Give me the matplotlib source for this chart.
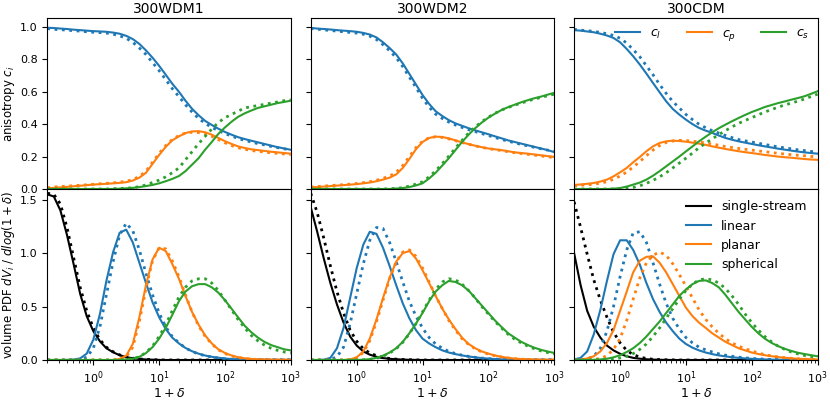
import numpy as np
import matplotlib
matplotlib.use("Agg")
import matplotlib.pyplot as plt

# x grid: 1+delta, 0.1 dex steps from 0.2 to 1000
delta1 = [0.2, 0.251, 0.316, 0.398, 0.501, 0.631, 0.794, 1.0, 1.26, 1.58,
          2.0, 2.51, 3.16, 3.98, 5.01, 6.31, 7.94, 10.0, 12.6, 15.8,
          20.0, 25.1, 31.6, 39.8, 50.1, 63.1, 79.4, 100.0, 126.0, 158.0,
          200.0, 251.0, 316.0, 398.0, 501.0, 631.0, 794.0, 1000.0]

runs = ["300WDM1", "300WDM2", "300CDM"]

# ---- anisotropy c_l, c_p, c_s (solid, and dotted comparison) ----
cl_wdm1 = [0.995, 0.993, 0.99, 0.987, 0.983, 0.98, 0.977, 0.974, 0.972, 0.97,
           0.965, 0.958, 0.945, 0.925, 0.895, 0.855, 0.81, 0.76, 0.705, 0.65,
           0.60, 0.545, 0.495, 0.455, 0.42, 0.395, 0.372, 0.352, 0.335, 0.32,
           0.308, 0.298, 0.288, 0.278, 0.268, 0.258, 0.25, 0.242]
cl_wdm1_d = [0.99, 0.985, 0.983, 0.98, 0.977, 0.974, 0.97, 0.967, 0.965, 0.962,
             0.955, 0.945, 0.93, 0.905, 0.87, 0.83, 0.78, 0.73, 0.675, 0.62,
             0.57, 0.52, 0.475, 0.435, 0.405, 0.38, 0.36, 0.342, 0.327, 0.312,
             0.30, 0.29, 0.28, 0.272, 0.263, 0.255, 0.248, 0.24]
cp_wdm1 = [0.005, 0.007, 0.01, 0.013, 0.017, 0.02, 0.024, 0.027, 0.03, 0.032,
           0.035, 0.038, 0.042, 0.052, 0.07, 0.10, 0.155, 0.21, 0.26, 0.30,
           0.325, 0.345, 0.355, 0.357, 0.35, 0.335, 0.315, 0.295, 0.278, 0.263,
           0.253, 0.245, 0.24, 0.235, 0.23, 0.226, 0.222, 0.218]
cp_wdm1_d = [0.008, 0.012, 0.015, 0.018, 0.02, 0.023, 0.026, 0.029, 0.032, 0.035,
             0.038, 0.042, 0.048, 0.058, 0.078, 0.11, 0.165, 0.22, 0.268, 0.305,
             0.33, 0.345, 0.35, 0.348, 0.34, 0.325, 0.305, 0.285, 0.268, 0.255,
             0.245, 0.238, 0.232, 0.228, 0.223, 0.22, 0.216, 0.213]
cs_wdm1 = [0, 0, 0, 0, 0, 0, 0, 0, 0, 0,
           0, 0.002, 0.004, 0.007, 0.012, 0.018, 0.025, 0.035, 0.048, 0.062,
           0.08, 0.11, 0.15, 0.19, 0.243, 0.29, 0.34, 0.38, 0.415, 0.445,
           0.467, 0.484, 0.50, 0.51, 0.52, 0.53, 0.537, 0.545]
cs_wdm1_d = [0, 0, 0, 0, 0, 0, 0, 0, 0, 0,
             0.002, 0.003, 0.005, 0.008, 0.015, 0.025, 0.04, 0.055, 0.075, 0.10,
             0.13, 0.18, 0.23, 0.28, 0.325, 0.37, 0.41, 0.44, 0.46, 0.48,
             0.50, 0.508, 0.515, 0.522, 0.53, 0.537, 0.545, 0.55]

cl_wdm2 = [0.994, 0.99, 0.987, 0.984, 0.98, 0.977, 0.974, 0.97, 0.963, 0.953,
           0.935, 0.905, 0.87, 0.83, 0.775, 0.71, 0.645, 0.58, 0.525, 0.48,
           0.45, 0.425, 0.405, 0.39, 0.375, 0.362, 0.35, 0.338, 0.325, 0.313,
           0.30, 0.29, 0.28, 0.27, 0.26, 0.25, 0.24, 0.228]
cl_wdm2_d = [0.99, 0.986, 0.982, 0.978, 0.974, 0.97, 0.966, 0.962, 0.955, 0.943,
             0.922, 0.89, 0.853, 0.81, 0.755, 0.69, 0.627, 0.56, 0.505, 0.462,
             0.435, 0.413, 0.395, 0.38, 0.366, 0.354, 0.342, 0.33, 0.318, 0.306,
             0.295, 0.285, 0.275, 0.266, 0.257, 0.248, 0.24, 0.232]
cp_wdm2 = [0.01, 0.012, 0.015, 0.018, 0.021, 0.024, 0.027, 0.03, 0.035, 0.04,
           0.048, 0.058, 0.07, 0.09, 0.13, 0.185, 0.245, 0.29, 0.315, 0.323,
           0.321, 0.312, 0.30, 0.288, 0.277, 0.267, 0.258, 0.25, 0.245, 0.24,
           0.233, 0.226, 0.222, 0.218, 0.213, 0.208, 0.203, 0.198]
cp_wdm2_d = [0.012, 0.015, 0.018, 0.021, 0.024, 0.027, 0.03, 0.034, 0.039, 0.045,
             0.054, 0.066, 0.08, 0.103, 0.145, 0.20, 0.255, 0.295, 0.316, 0.322,
             0.318, 0.309, 0.298, 0.287, 0.276, 0.266, 0.257, 0.249, 0.243, 0.237,
             0.23, 0.224, 0.219, 0.214, 0.209, 0.204, 0.199, 0.194]
cs_wdm2 = [0, 0, 0, 0, 0, 0, 0, 0, 0, 0,
           0, 0, 0, 0.003, 0.006, 0.012, 0.022, 0.035, 0.065, 0.10,
           0.145, 0.19, 0.24, 0.29, 0.335, 0.375, 0.41, 0.44, 0.465, 0.487,
           0.505, 0.52, 0.535, 0.548, 0.56, 0.57, 0.582, 0.593]
cs_wdm2_d = [0, 0, 0, 0, 0, 0, 0, 0, 0, 0,
             0, 0, 0.002, 0.004, 0.008, 0.018, 0.03, 0.045, 0.075, 0.112,
             0.157, 0.203, 0.252, 0.30, 0.345, 0.383, 0.415, 0.443, 0.467, 0.487,
             0.503, 0.517, 0.53, 0.543, 0.555, 0.565, 0.575, 0.585]

cl_cdm = [0.98, 0.977, 0.972, 0.967, 0.958, 0.947, 0.932, 0.905, 0.864, 0.819,
          0.767, 0.712, 0.654, 0.597, 0.541, 0.494, 0.459, 0.428, 0.40, 0.377,
          0.36, 0.346, 0.33, 0.315, 0.304, 0.294, 0.286, 0.278, 0.27, 0.263,
          0.256, 0.249, 0.243, 0.237, 0.231, 0.226, 0.222, 0.218]
cl_cdm_d = [0.985, 0.98, 0.977, 0.972, 0.966, 0.958, 0.947, 0.93, 0.90, 0.86,
            0.815, 0.76, 0.705, 0.645, 0.59, 0.54, 0.50, 0.46, 0.428, 0.40,
            0.378, 0.36, 0.345, 0.33, 0.317, 0.305, 0.297, 0.29, 0.282, 0.275,
            0.267, 0.26, 0.254, 0.248, 0.242, 0.237, 0.232, 0.228]
cp_cdm = [0.025, 0.028, 0.032, 0.037, 0.046, 0.058, 0.078, 0.103, 0.13, 0.165,
          0.198, 0.233, 0.263, 0.284, 0.294, 0.298, 0.296, 0.292, 0.286, 0.28,
          0.272, 0.263, 0.255, 0.247, 0.24, 0.233, 0.227, 0.222, 0.216, 0.21,
          0.205, 0.20, 0.196, 0.193, 0.189, 0.185, 0.182, 0.18]
cp_cdm_d = [0.02, 0.023, 0.026, 0.03, 0.036, 0.045, 0.06, 0.08, 0.105, 0.135,
            0.17, 0.205, 0.24, 0.268, 0.287, 0.296, 0.30, 0.299, 0.295, 0.29,
            0.284, 0.277, 0.27, 0.262, 0.256, 0.25, 0.245, 0.24, 0.235, 0.23,
            0.225, 0.22, 0.216, 0.212, 0.208, 0.205, 0.201, 0.198]
cs_cdm = [0, 0, 0, 0, 0, 0, 0.002, 0.006, 0.015, 0.027,
          0.04, 0.058, 0.082, 0.11, 0.14, 0.17, 0.20, 0.232, 0.263, 0.294,
          0.323, 0.35, 0.375, 0.397, 0.418, 0.438, 0.457, 0.475, 0.49, 0.506,
          0.518, 0.53, 0.54, 0.551, 0.561, 0.572, 0.587, 0.603]
cs_cdm_d = [0, 0, 0, 0, 0, 0, 0, 0.002, 0.005, 0.01,
            0.02, 0.035, 0.053, 0.075, 0.10, 0.13, 0.16, 0.19, 0.222, 0.255,
            0.283, 0.31, 0.335, 0.36, 0.383, 0.405, 0.423, 0.44, 0.458, 0.475,
            0.49, 0.505, 0.518, 0.53, 0.542, 0.555, 0.57, 0.585]

# ---- volume PDFs: single-stream, linear, planar, spherical ----
ss_wdm1 = [1.55, 1.53, 1.40, 1.17, 0.90, 0.62, 0.41, 0.27, 0.175, 0.11,
           0.072, 0.045, 0.027, 0.016, 0.009, 0.005, 0.003, 0.001, 0, 0,
           0, 0, 0, 0, 0, 0, 0, 0, 0, 0, 0, 0, 0, 0, 0, 0, 0, 0]
ss_wdm1_d = [1.56, 1.55, 1.46, 1.24, 0.96, 0.68, 0.46, 0.30, 0.19, 0.12,
             0.077, 0.048, 0.029, 0.017, 0.01, 0.006, 0.003, 0.001, 0, 0,
             0, 0, 0, 0, 0, 0, 0, 0, 0, 0, 0, 0, 0, 0, 0, 0, 0, 0]
lin_wdm1 = [0, 0, 0, 0.001, 0.004, 0.015, 0.06, 0.19, 0.43, 0.74,
            1.01, 1.19, 1.22, 1.10, 0.91, 0.72, 0.54, 0.40, 0.29, 0.21,
            0.155, 0.113, 0.082, 0.059, 0.042, 0.03, 0.021, 0.014, 0.009, 0.006,
            0.004, 0.002, 0.001, 0.001, 0, 0, 0, 0]
lin_wdm1_d = [0, 0, 0, 0, 0.002, 0.006, 0.025, 0.11, 0.31, 0.61,
              0.92, 1.17, 1.28, 1.21, 1.03, 0.81, 0.61, 0.44, 0.31, 0.22,
              0.16, 0.113, 0.08, 0.056, 0.04, 0.028, 0.019, 0.012, 0.007, 0.004,
              0.002, 0.001, 0.001, 0, 0, 0, 0, 0]
pla_wdm1 = [0, 0, 0, 0, 0, 0, 0, 0, 0, 0,
            0, 0.01, 0.04, 0.15, 0.40, 0.70, 0.94, 1.05, 1.02, 0.90,
            0.76, 0.60, 0.45, 0.33, 0.23, 0.155, 0.10, 0.066, 0.042, 0.026,
            0.016, 0.01, 0.006, 0.004, 0.002, 0.001, 0.001, 0]
pla_wdm1_d = [0, 0, 0, 0, 0, 0, 0, 0, 0, 0,
              0, 0.005, 0.03, 0.12, 0.36, 0.67, 0.93, 1.05, 1.04, 0.93,
              0.78, 0.61, 0.45, 0.32, 0.22, 0.15, 0.095, 0.06, 0.038, 0.023,
              0.014, 0.008, 0.005, 0.003, 0.002, 0.001, 0, 0]
sph_wdm1 = [0, 0, 0, 0, 0, 0, 0, 0, 0, 0,
            0, 0, 0.005, 0.012, 0.03, 0.065, 0.12, 0.20, 0.30, 0.42,
            0.55, 0.64, 0.69, 0.71, 0.71, 0.68, 0.63, 0.56, 0.48, 0.40,
            0.32, 0.26, 0.21, 0.17, 0.14, 0.12, 0.10, 0.09]
sph_wdm1_d = [0, 0, 0, 0, 0, 0, 0, 0, 0, 0,
              0, 0, 0.005, 0.012, 0.03, 0.07, 0.13, 0.22, 0.33, 0.46,
              0.59, 0.68, 0.74, 0.76, 0.76, 0.72, 0.65, 0.56, 0.47, 0.38,
              0.30, 0.23, 0.18, 0.14, 0.11, 0.09, 0.075, 0.065]

ss_wdm2 = [1.43, 1.20, 0.95, 0.72, 0.52, 0.35, 0.22, 0.135, 0.08, 0.05,
           0.03, 0.018, 0.011, 0.007, 0.004, 0.002, 0.001, 0, 0, 0,
           0, 0, 0, 0, 0, 0, 0, 0, 0, 0, 0, 0, 0, 0, 0, 0, 0, 0]
ss_wdm2_d = [1.56, 1.38, 1.14, 0.88, 0.64, 0.44, 0.28, 0.175, 0.105, 0.065,
             0.04, 0.024, 0.014, 0.008, 0.005, 0.003, 0.001, 0, 0, 0,
             0, 0, 0, 0, 0, 0, 0, 0, 0, 0, 0, 0, 0, 0, 0, 0, 0, 0]
lin_wdm2 = [0, 0, 0.003, 0.02, 0.11, 0.30, 0.58, 0.86, 1.08, 1.20,
            1.18, 1.05, 0.88, 0.70, 0.53, 0.39, 0.28, 0.20, 0.155, 0.12,
            0.09, 0.07, 0.055, 0.043, 0.033, 0.025, 0.018, 0.013, 0.009, 0.006,
            0.004, 0.002, 0.001, 0, 0, 0, 0, 0]
lin_wdm2_d = [0, 0, 0, 0.005, 0.03, 0.12, 0.34, 0.62, 0.90, 1.12,
              1.24, 1.23, 1.10, 0.92, 0.73, 0.55, 0.41, 0.30, 0.21, 0.15,
              0.11, 0.08, 0.06, 0.045, 0.034, 0.025, 0.018, 0.013, 0.009, 0.006,
              0.004, 0.002, 0.001, 0, 0, 0, 0, 0]
pla_wdm2 = [0, 0, 0, 0, 0, 0, 0.005, 0.025, 0.08, 0.20,
            0.38, 0.58, 0.77, 0.92, 1.0, 1.02, 0.95, 0.84, 0.72, 0.60,
            0.48, 0.38, 0.29, 0.21, 0.15, 0.11, 0.08, 0.06, 0.042, 0.03,
            0.02, 0.013, 0.009, 0.006, 0.004, 0.002, 0.001, 0.001]
pla_wdm2_d = [0, 0, 0, 0, 0, 0, 0.003, 0.02, 0.07, 0.18,
              0.36, 0.56, 0.76, 0.92, 1.01, 1.03, 0.97, 0.86, 0.73, 0.60,
              0.48, 0.37, 0.28, 0.20, 0.145, 0.105, 0.075, 0.055, 0.04, 0.028,
              0.019, 0.012, 0.008, 0.005, 0.003, 0.002, 0.001, 0]
sph_wdm2 = [0, 0, 0, 0, 0, 0, 0, 0, 0.003, 0.008,
            0.02, 0.04, 0.07, 0.11, 0.17, 0.25, 0.34, 0.44, 0.55, 0.64,
            0.70, 0.74, 0.73, 0.70, 0.65, 0.58, 0.51, 0.44, 0.37, 0.31,
            0.25, 0.21, 0.17, 0.14, 0.115, 0.095, 0.08, 0.066]
sph_wdm2_d = [0, 0, 0, 0, 0, 0, 0, 0, 0.002, 0.006,
              0.016, 0.035, 0.065, 0.105, 0.165, 0.245, 0.34, 0.45, 0.56, 0.66,
              0.73, 0.76, 0.75, 0.71, 0.65, 0.58, 0.50, 0.43, 0.36, 0.30,
              0.24, 0.195, 0.16, 0.13, 0.105, 0.085, 0.07, 0.058]

ss_cdm = [1.0, 0.70, 0.46, 0.31, 0.21, 0.135, 0.09, 0.058, 0.035, 0.02,
          0.012, 0.007, 0.004, 0.002, 0.001, 0, 0, 0, 0, 0,
          0, 0, 0, 0, 0, 0, 0, 0, 0, 0, 0, 0, 0, 0, 0, 0, 0, 0]
ss_cdm_d = [1.48, 1.24, 0.99, 0.75, 0.56, 0.40, 0.26, 0.16, 0.09, 0.05,
            0.027, 0.014, 0.007, 0.004, 0.002, 0.001, 0, 0, 0, 0,
            0, 0, 0, 0, 0, 0, 0, 0, 0, 0, 0, 0, 0, 0, 0, 0, 0, 0]
lin_cdm = [0.005, 0.02, 0.08, 0.24, 0.47, 0.74, 0.99, 1.12, 1.12, 1.03,
           0.89, 0.72, 0.57, 0.45, 0.35, 0.27, 0.20, 0.15, 0.115, 0.09,
           0.07, 0.055, 0.043, 0.034, 0.026, 0.02, 0.015, 0.011, 0.008, 0.005,
           0.003, 0.002, 0.001, 0, 0, 0, 0, 0]
lin_cdm_d = [0, 0.003, 0.01, 0.035, 0.11, 0.27, 0.50, 0.78, 1.03, 1.19,
             1.20, 1.10, 0.91, 0.71, 0.53, 0.39, 0.29, 0.21, 0.16, 0.12,
             0.095, 0.075, 0.058, 0.045, 0.035, 0.027, 0.02, 0.015, 0.011, 0.008,
             0.005, 0.003, 0.002, 0.001, 0, 0, 0, 0]
pla_cdm = [0, 0.003, 0.015, 0.035, 0.08, 0.16, 0.28, 0.46, 0.64, 0.82,
           0.93, 0.965, 0.97, 0.91, 0.82, 0.71, 0.60, 0.49, 0.41, 0.35,
           0.30, 0.25, 0.21, 0.17, 0.14, 0.11, 0.09, 0.07, 0.056, 0.045,
           0.035, 0.028, 0.021, 0.016, 0.012, 0.009, 0.007, 0.005]
pla_cdm_d = [0, 0, 0.002, 0.005, 0.015, 0.04, 0.10, 0.20, 0.37, 0.57,
             0.77, 0.91, 0.98, 1.01, 0.98, 0.90, 0.80, 0.69, 0.58, 0.47,
             0.38, 0.31, 0.25, 0.20, 0.16, 0.13, 0.105, 0.085, 0.065, 0.05,
             0.038, 0.029, 0.022, 0.016, 0.011, 0.008, 0.005, 0.003]
sph_cdm = [0, 0, 0, 0.002, 0.005, 0.012, 0.025, 0.045, 0.075, 0.11,
           0.16, 0.22, 0.29, 0.36, 0.44, 0.52, 0.60, 0.66, 0.71, 0.74,
           0.745, 0.72, 0.68, 0.61, 0.53, 0.45, 0.38, 0.31, 0.25, 0.20,
           0.16, 0.13, 0.105, 0.085, 0.068, 0.056, 0.045, 0.035]
sph_cdm_d = [0, 0, 0, 0, 0.002, 0.005, 0.01, 0.02, 0.035, 0.06,
             0.10, 0.15, 0.22, 0.30, 0.39, 0.48, 0.57, 0.65, 0.71, 0.75,
             0.76, 0.75, 0.72, 0.67, 0.60, 0.52, 0.43, 0.35, 0.28, 0.22,
             0.17, 0.13, 0.10, 0.075, 0.057, 0.043, 0.033, 0.025]

top_sets = [
    [(cl_wdm1, cl_wdm1_d), (cp_wdm1, cp_wdm1_d), (cs_wdm1, cs_wdm1_d)],
    [(cl_wdm2, cl_wdm2_d), (cp_wdm2, cp_wdm2_d), (cs_wdm2, cs_wdm2_d)],
    [(cl_cdm, cl_cdm_d), (cp_cdm, cp_cdm_d), (cs_cdm, cs_cdm_d)],
]
bot_sets = [
    [(ss_wdm1, ss_wdm1_d), (lin_wdm1, lin_wdm1_d), (pla_wdm1, pla_wdm1_d), (sph_wdm1, sph_wdm1_d)],
    [(ss_wdm2, ss_wdm2_d), (lin_wdm2, lin_wdm2_d), (pla_wdm2, pla_wdm2_d), (sph_wdm2, sph_wdm2_d)],
    [(ss_cdm, ss_cdm_d), (lin_cdm, lin_cdm_d), (pla_cdm, pla_cdm_d), (sph_cdm, sph_cdm_d)],
]
top_labels = [r'$c_l$', r'$c_p$', r'$c_s$']
bot_labels = ['single-stream', 'linear', 'planar', 'spherical']
top_colors = ['C0', 'C1', 'C2']
bot_colors = ['k', 'C0', 'C1', 'C2']

plt.rcParams['xtick.labelsize'] = 8
plt.rcParams['ytick.labelsize'] = 8

fig, axes = plt.subplots(2, 3, figsize=(8.3, 4), dpi=100, sharex=True, sharey='row')
fig.subplots_adjust(left=0.057, right=0.985, top=0.955, bottom=0.1, wspace=0.082, hspace=0)

for j in range(3):
    ax = axes[0, j]
    for (solid, dot), c, lab in zip(top_sets[j], top_colors, top_labels):
        ax.plot(delta1, solid, c=c, lw=1.5, label=lab)
        ax.plot(delta1, dot, c=c, lw=2, ls=':')
    ax.set_title(runs[j], fontsize=10, pad=3.5)

    ax = axes[1, j]
    for (solid, dot), c, lab in zip(bot_sets[j], bot_colors, bot_labels):
        ax.plot(delta1, solid, c=c, lw=1.5, label=lab)
        ax.plot(delta1, dot, c=c, lw=2, ls=':')
    ax.set_xlabel(r'$1+\delta$', fontsize=9, labelpad=0.5)

axes[0, 0].set_xscale('log')
axes[0, 0].set_xlim(0.2, 1000)
axes[0, 0].set_ylim(0, 1.055)
axes[1, 0].set_ylim(0, 1.6)
axes[1, 0].set_yticks([0.0, 0.5, 1.0, 1.5])
axes[0, 0].set_ylabel(r'anisotropy $c_i$', fontsize=8.5, labelpad=2)
axes[1, 0].set_ylabel(r'volume PDF $dV_i$ / $dlog(1+\delta)$', fontsize=8.5, labelpad=2)

axes[0, 2].legend(ncol=3, loc='upper right', frameon=False, fontsize=9,
                  borderaxespad=0.3)
axes[1, 2].legend(loc='upper right', frameon=False, fontsize=9)

plt.savefig('out.png', dpi=100)
